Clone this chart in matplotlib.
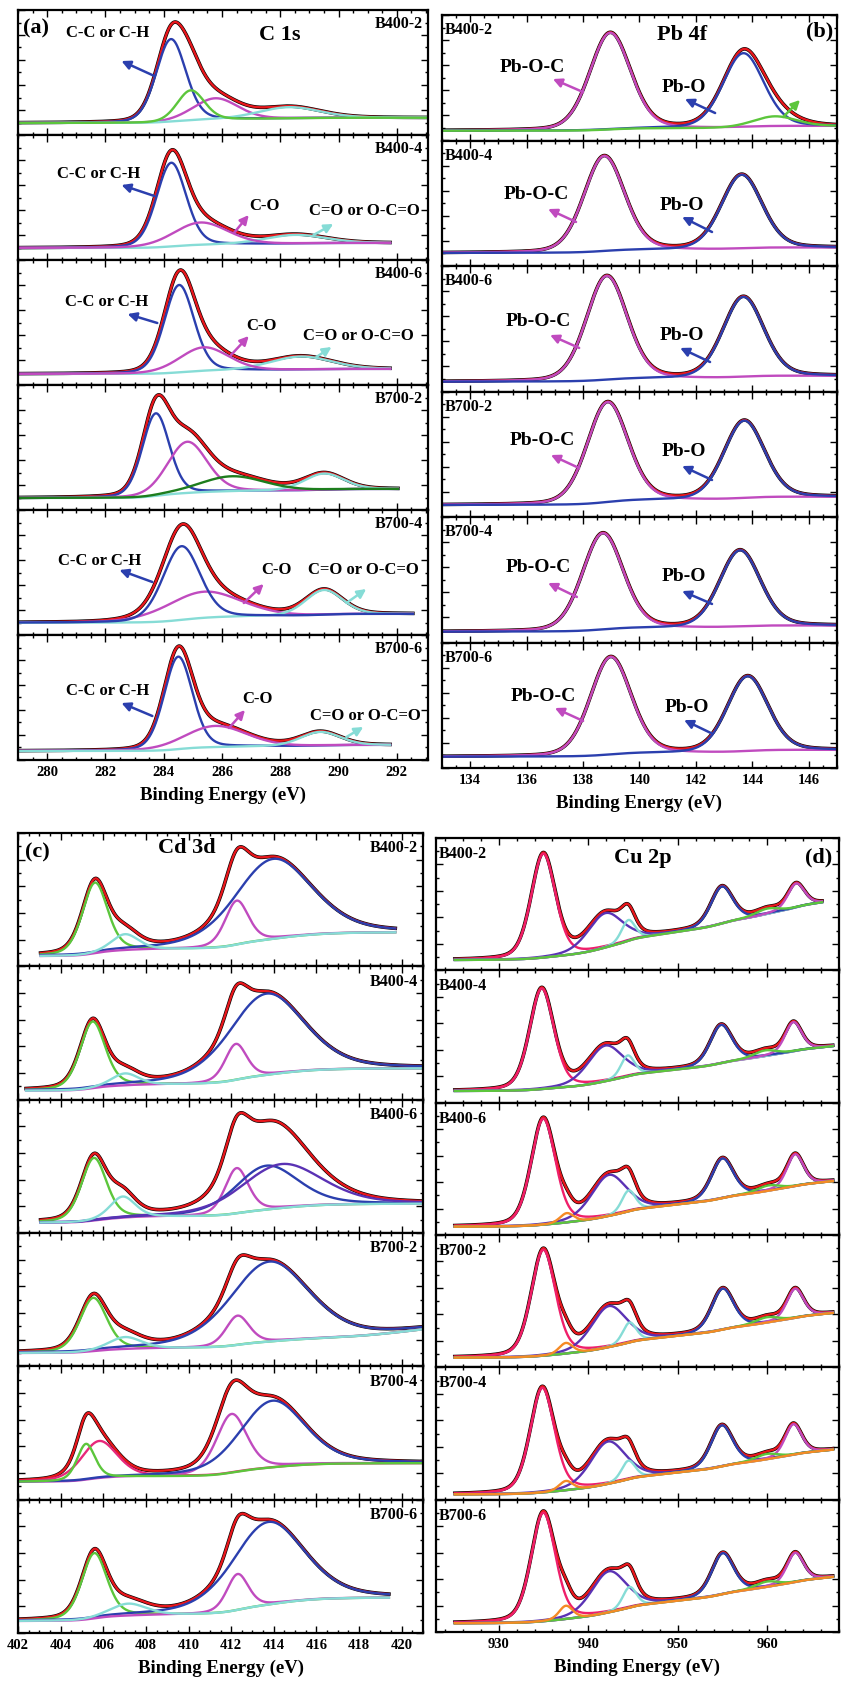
import numpy as np
import matplotlib.pyplot as plt
from matplotlib.ticker import MultipleLocator

plt.rcParams['font.family'] = ['Liberation Serif', 'DejaVu Serif']
plt.rcParams['font.weight'] = 'bold'

RED, BLUE, GREEN, MAG, CYAN = "#e8171c", "#2b3fae", "#5cc63c", "#c04bbf", "#86dcd6"
DGREEN, PURPLE, PINK, ORANGE, CRIMSON = "#1d7d1d", "#5a32b4", "#ef1f6a", "#f58a25", "#e8287a"

SAMPLES = ["B400-2", "B400-4", "B400-6", "B700-2", "B700-4", "B700-6"]

# ---- C 1s : peak centre (eV), FWHM (eV), height, background step ----
C1S_CENTERS = [[284.25, 285.78, 288.3, 284.93], [284.26, 288.5, 285.27], [284.53, 288.7, 285.38],
               [283.73, 284.81, 289.5, 286.35], [285.38, 289.5, 284.61], [284.5, 285.78, 289.37]]
C1S_FWHM = [[1.2, 1.8, 2.5, 1.1], [1.2, 2.5, 2.2], [1.2, 2.5, 2.0],
            [1.1, 1.6, 1.6, 2.6], [3.0, 1.5, 1.5], [1.15, 2.5, 1.6]]
C1S_HEIGHTS = [[0.66, 0.17, 0.09, 0.24], [0.67, 0.07, 0.18], [0.70, 0.105, 0.19],
               [0.66, 0.41, 0.13, 0.12], [0.21, 0.20, 0.59], [0.74, 0.17, 0.11]]
C1S_STEPS = [[0.02, 0.007, 0.01, 0.005], [0.02, 0.01, 0.01], [0.02, 0.01, 0.01],
             [0.03, 0.02, 0.012, 0.01], [0.025, 0.015, 0.03], [0.025, 0.013, 0.01]]
C1S_COLORS = [[BLUE, MAG, CYAN, GREEN], [BLUE, CYAN, MAG], [BLUE, CYAN, MAG],
              [BLUE, MAG, CYAN, DGREEN], [MAG, CYAN, BLUE], [BLUE, MAG, CYAN]]
C1S_BASE = [0.096, 0.096, 0.088, 0.096, 0.098, 0.072]
C1S_SPAN = [(279.0, 293.0), (279.0, 291.77), (279.0, 291.77), (279.0, 292.04), (279.0, 292.55), (279.0, 291.77)]

# ---- Pb 4f ----
PB_CENTERS = [[138.96, 143.68, 144.8], [138.75, 143.62], [138.84, 143.68],
              [138.87, 143.71], [138.70, 143.56], [138.98, 143.83]]
PB_FWHM = [[1.7, 1.7, 1.8], [1.7, 1.7], [1.7, 1.7], [1.7, 1.7], [1.7, 1.7], [1.7, 1.7]]
PB_HEIGHTS = [[0.77, 0.59, 0.08], [0.76, 0.59], [0.83, 0.64], [0.80, 0.62], [0.77, 0.61], [0.78, 0.60]]
PB_STEPS = [[0.02, 0.015, 0.002], [0.025, 0.017], [0.026, 0.02], [0.04, 0.024], [0.03, 0.018], [0.03, 0.023]]
PB_COLORS = [[MAG, BLUE, GREEN], [MAG, BLUE], [MAG, BLUE], [MAG, BLUE], [MAG, BLUE], [MAG, BLUE]]
PB_BASE = [0.078, 0.104, 0.078, 0.096, 0.086, 0.09]
PB_SPAN = [(133.0, 147.0)] * 6

# ---- Cd 3d ----
CD_CENTERS = [[405.61, 413.97, 412.26, 407.02], [405.5, 413.66, 412.22, 407.02],
              [405.56, 412.26, 413.66, 414.36, 406.91], [405.53, 413.8, 412.3, 407.02],
              [405.81, 412.02, 413.94, 405.19], [405.58, 413.74, 412.3, 407.17]]
CD_FWHM = [[1.4, 4.3, 1.3, 1.5], [1.4, 4.2, 1.2, 1.5], [1.4, 1.3, 3.5, 4.5, 1.4],
           [1.5, 4.4, 1.3, 1.8], [2.0, 1.7, 3.6, 1.0], [1.4, 4.0, 1.2, 2.0]]
CD_HEIGHTS = [[0.53, 0.60, 0.33, 0.12], [0.50, 0.61, 0.27, 0.09], [0.47, 0.34, 0.33, 0.33, 0.16],
              [0.40, 0.60, 0.22, 0.09], [0.28, 0.44, 0.50, 0.27], [0.49, 0.62, 0.27, 0.09]]
CD_STEPS = [[0.04, 0.098, 0.03, 0.01], [0.035, 0.098, 0.025, 0.01], [0.03, 0.02, 0.038, 0.04, 0.015],
            [0.025, 0.062, 0.02, 0.01], [0.025, 0.04, 0.06, 0.015], [0.035, 0.105, 0.025, 0.01]]
CD_COLORS = [[GREEN, BLUE, MAG, CYAN], [GREEN, BLUE, MAG, CYAN], [GREEN, MAG, BLUE, PURPLE, CYAN],
             [GREEN, BLUE, MAG, CYAN], [CRIMSON, MAG, BLUE, GREEN], [GREEN, BLUE, MAG, CYAN]]
CD_BASE = [0.077, 0.067, 0.077, 0.10, 0.134, 0.09]
CD_RAMP = [0.0, 0.0, 0.0, 0.02, 0.0, 0.0]
CD_SPAN = [(403.06, 419.7), (402.38, 421.0), (403.06, 421.0), (402.0, 421.0), (402.0, 421.0), (402.0, 419.4)]

# ---- Cu 2p ----
CU_CENTERS = [[934.98, 941.9, 944.47, 954.9, 963.2, 959.9],
              [934.8, 941.9, 944.4, 954.82, 962.9, 959.7],
              [934.98, 942.3, 944.5, 954.97, 963.1, 960.1, 937.6],
              [934.98, 942.3, 944.6, 955.0, 963.1, 959.9, 937.5],
              [934.87, 942.2, 944.47, 954.9, 962.9, 959.9, 937.5],
              [934.98, 942.3, 944.6, 955.0, 963.1, 959.9, 937.5]]
CU_FWHM = [[3.2, 4.6, 1.8, 2.9, 2.2, 3.0]] * 2 + [[3.2, 4.6, 1.8, 2.9, 2.2, 3.0, 1.8]] * 4
CU_HEIGHTS = [[0.785, 0.26, 0.157, 0.28, 0.18, 0.04],
              [0.76, 0.27, 0.157, 0.29, 0.22, 0.043],
              [0.80, 0.31, 0.157, 0.30, 0.24, 0.04, 0.07],
              [0.80, 0.31, 0.15, 0.31, 0.22, 0.04, 0.08],
              [0.79, 0.32, 0.14, 0.31, 0.23, 0.04, 0.07],
              [0.82, 0.31, 0.155, 0.31, 0.22, 0.04, 0.10]]
CU_STEPS = [[0.01, 0.05, 0.02, 0.03, 0.02, 0.02],
            [0.01, 0.04, 0.015, 0.025, 0.015, 0.015]] + [[0.01, 0.04, 0.015, 0.025, 0.015, 0.015, 0.005]] * 4
CU_COLORS = [[PINK, PURPLE, CYAN, BLUE, MAG, GREEN]] * 2 + [[PINK, PURPLE, CYAN, BLUE, MAG, GREEN, ORANGE]] * 4
CU_BASE = [0.078, 0.088, 0.063, 0.073, 0.04, 0.066]
CU_RAMP = [0.0095, 0.007, 0.007, 0.0068, 0.0068, 0.0072]
CU_SPAN = [(925.1, 966.1)] + [(925.1, 967.3)] * 5

# text, x (eV), y, arrow tail, arrow head, colour
C1S_NOTES = [
    (0, "C-C or C-H", 282.06, 0.816, (283.68, 0.472), (282.55, 0.592), BLUE),
    (1, "C-C or C-H", 281.75, 0.688, (283.68, 0.512), (282.55, 0.60), BLUE),
    (1, "C-O", 287.47, 0.432, (286.41, 0.216), (286.92, 0.36), MAG),
    (1, "C=O or O-C=O", 290.88, 0.392, (289.14, 0.2), (289.82, 0.288), CYAN),
    (2, "C-C or C-H", 282.04, 0.664, (283.78, 0.496), (282.76, 0.568), BLUE),
    (2, "C-O", 287.35, 0.472, (286.31, 0.24), (286.92, 0.392), MAG),
    (2, "C=O or O-C=O", 290.68, 0.392, (289.24, 0.224), (289.76, 0.304), CYAN),
    (4, "C-C or C-H", 281.8, 0.592, (283.61, 0.424), (282.48, 0.52), BLUE),
    (4, "C-O", 287.86, 0.52, (286.75, 0.256), (287.43, 0.408), MAG),
    (4, "C=O or O-C=O", 290.85, 0.52, (290.27, 0.256), (290.95, 0.368), CYAN),
    (5, "C-C or C-H", 282.09, 0.552, (283.61, 0.352), (282.55, 0.456), BLUE),
    (5, "C-O", 287.23, 0.488, (286.24, 0.256), (286.79, 0.40), MAG),
    (5, "C=O or O-C=O", 290.92, 0.352, (290.27, 0.184), (290.85, 0.264), CYAN),
]
PB_NOTES = [
    (0, "Pb-O-C", 136.19, 0.578, (138.0, 0.386), (136.93, 0.49), MAG),
    (0, "Pb-O", 141.58, 0.426, (142.68, 0.219), (141.61, 0.331), BLUE),
    (0, "", 0, 0, (145.09, 0.187), (145.69, 0.323), GREEN),
    (1, "Pb-O-C", 136.33, 0.566, (137.75, 0.351), (136.76, 0.454), MAG),
    (1, "Pb-O", 141.51, 0.486, (142.57, 0.271), (141.51, 0.39), BLUE),
    (2, "Pb-O-C", 136.42, 0.556, (137.86, 0.347), (136.83, 0.45), MAG),
    (2, "Pb-O", 141.49, 0.45, (142.5, 0.235), (141.44, 0.347), BLUE),
    (3, "Pb-O-C", 136.54, 0.606, (137.86, 0.39), (136.86, 0.494), MAG),
    (3, "Pb-O", 141.59, 0.518, (142.57, 0.295), (141.51, 0.406), BLUE),
    (4, "Pb-O-C", 136.42, 0.594, (137.78, 0.363), (136.76, 0.474), MAG),
    (4, "Pb-O", 141.59, 0.522, (142.57, 0.307), (141.51, 0.41), BLUE),
    (5, "Pb-O-C", 136.58, 0.568, (138.0, 0.375), (137.0, 0.478), MAG),
    (5, "Pb-O", 141.67, 0.486, (142.6, 0.271), (141.58, 0.382), BLUE),
]

W, H = 843, 1684
fig = plt.figure(figsize=(W / 100, H / 100), dpi=100)


def voigt(x, c, fwhm, h, eta):
    u = (x - c) / fwhm
    return h * ((1 - eta) * np.exp(-4 * np.log(2) * u ** 2) + eta / (1 + 4 * u ** 2))


def make_stack(left, right, top, bottom, xlim, major, minor):
    hh = (bottom - top) / 6
    axes = []
    for i in range(6):
        ax = fig.add_axes([left / W, 1 - (top + (i + 1) * hh) / H, (right - left) / W, hh / H])
        ax.set_xlim(*xlim)
        ax.set_ylim(0, 1)
        ax.xaxis.set_major_locator(MultipleLocator(major))
        ax.xaxis.set_minor_locator(MultipleLocator(minor))
        ax.yaxis.set_major_locator(MultipleLocator(0.2))
        ax.yaxis.set_minor_locator(MultipleLocator(0.1))
        ax.tick_params(which="both", direction="in", top=True, right=True, width=1.0)
        ax.tick_params(which="major", length=5)
        ax.tick_params(which="minor", length=2.5)
        ax.tick_params(axis="y", labelleft=False)
        ax.tick_params(axis="x", labelsize=10.5, pad=4)
        if i < 5:
            ax.tick_params(axis="x", labelbottom=False)
        for s in ax.spines.values():
            s.set_linewidth(1.6)
        axes.append(ax)
    axes[-1].set_xlabel("Binding Energy (eV)", fontsize=13.5, fontweight="bold", labelpad=6)
    return axes


def draw_row(ax, span, centers, fwhms, heights, steps, colors, y0, eta, ramp=0.0, knee=0.0, d=1.0):
    x = np.linspace(span[0], span[1], 700)
    peaks = [voigt(x, c, w, h, eta) for c, w, h in zip(centers, fwhms, heights)]
    bg = np.full_like(x, y0)
    for p, k in zip(peaks, steps):
        cum = np.cumsum(p)
        bg += k * cum / cum[-1]
    if ramp:
        bg += ramp * d * np.log1p(np.exp((x - knee) / d))
    env = bg + np.sum(peaks, axis=0)
    ax.plot(x, env, color="black", lw=2.6)
    ax.plot(x, env, color=RED, lw=1.7)
    for p, col in zip(peaks, colors):
        ax.plot(x, bg + p, color=col, lw=1.7)


def add_notes(axes, notes, size):
    for row, txt, tx, ty, tail, head, col in notes:
        ax = axes[row]
        if txt:
            ax.text(tx, ty, txt, fontsize=size, fontweight="bold", ha="center", va="center")
        ax.annotate("", xy=head, xytext=tail,
                    arrowprops=dict(arrowstyle="-|>", color=col, lw=1.8, mutation_scale=13,
                                    shrinkA=0, shrinkB=0))


def sample_labels(axes, right_side):
    for ax, name in zip(axes, SAMPLES):
        if right_side:
            ax.text(0.988, 0.885, name, transform=ax.transAxes, fontsize=11.5, ha="right", va="center")
        else:
            ax.text(0.007, 0.88, name, transform=ax.transAxes, fontsize=11.5, ha="left", va="center")


# (a) C 1s
ax_a = make_stack(18, 428, 10, 760, (279, 293.07), 2, 0.5)
for i, ax in enumerate(ax_a):
    draw_row(ax, C1S_SPAN[i], C1S_CENTERS[i], C1S_FWHM[i], C1S_HEIGHTS[i], C1S_STEPS[i],
             C1S_COLORS[i], C1S_BASE[i], 0.2)
add_notes(ax_a, C1S_NOTES, 12)
sample_labels(ax_a, True)
ax_a[0].text(279.61, 0.856, "(a)", fontsize=16, ha="center", va="center")
ax_a[0].text(287.98, 0.80, "C 1s", fontsize=16, ha="center", va="center")

# (b) Pb 4f
ax_b = make_stack(442, 837, 15, 768, (133, 147), 2, 0.5)
for i, ax in enumerate(ax_b):
    draw_row(ax, PB_SPAN[i], PB_CENTERS[i], PB_FWHM[i], PB_HEIGHTS[i], PB_STEPS[i],
             PB_COLORS[i], PB_BASE[i], 0.2)
add_notes(ax_b, PB_NOTES, 14)
sample_labels(ax_b, False)
ax_b[0].text(141.51, 0.84, "Pb 4f", fontsize=16, ha="center", va="center")
ax_b[0].text(0.99, 0.865, "(b)", fontsize=16, ha="right", va="center", transform=ax_b[0].transAxes)

# (c) Cd 3d
ax_c = make_stack(18, 423, 833, 1633, (402, 421), 2, 0.5)
for i, ax in enumerate(ax_c):
    draw_row(ax, CD_SPAN[i], CD_CENTERS[i], CD_FWHM[i], CD_HEIGHTS[i], CD_STEPS[i],
             CD_COLORS[i], CD_BASE[i], 0.35, CD_RAMP[i], 418.0, 1.0)
sample_labels(ax_c, True)
ax_c[0].text(0.048, 0.857, "(c)", fontsize=16, ha="center", va="center", transform=ax_c[0].transAxes)
ax_c[0].text(0.417, 0.889, "Cd 3d", fontsize=16, ha="center", va="center", transform=ax_c[0].transAxes)

# (d) Cu 2p
ax_d = make_stack(436, 839, 838, 1632, (923, 968), 10, 2)
for i, ax in enumerate(ax_d):
    draw_row(ax, CU_SPAN[i], CU_CENTERS[i], CU_FWHM[i], CU_HEIGHTS[i], CU_STEPS[i],
             CU_COLORS[i], CU_BASE[i], 0.3, CU_RAMP[i], 936.0, 2.5)
sample_labels(ax_d, False)
ax_d[0].text(0.514, 0.85, "Cu 2p", fontsize=16, ha="center", va="center", transform=ax_d[0].transAxes)
ax_d[0].text(0.983, 0.85, "(d)", fontsize=16, ha="right", va="center", transform=ax_d[0].transAxes)

fig.savefig("out.png", dpi=100)
